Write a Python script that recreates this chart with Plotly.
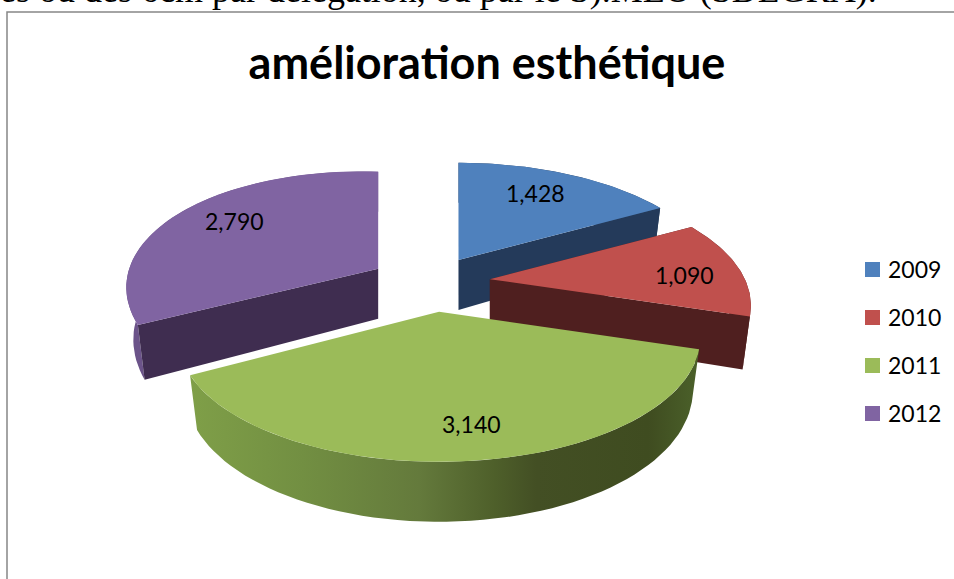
import math
import plotly.graph_objects as go

years = ["2009", "2010", "2011", "2012"]
values = [1428, 1090, 3140, 2790]
title_text = "amélioration esthétique"
page_text = "es ou des 6cm par délégation, ou par le S).MEO (SDLGRA)."

top_colors = ["#4f81bd", "#c0504d", "#9bbb59", "#8064a2"]
cut_colors = ["#243a5a", "#4f1f1f", "#4a5a2a", "#3f2d50"]
rim_colors = ["#2c4566", "#5a2422", None, "#6b5389"]
label_xy = [(535, 193), (684, 275), (471, 424), (234, 221)]
legend_y = [269.5, 317.5, 365.5, 413.5]

CX, CY = 433, 284       # pie centre
A, C = 255, 118         # radii before perspective
K = 0.214               # perspective strength
PULL = 0.236            # explosion
x_scale = [1, 1, 1, 0.965]
tilt = [0, 0, 0, 0.03]
nudge_x = [-5, -3, 0, -3]
nudge_y = [0, -2, 0, -1]
draw_order = [0, 3, 1, 2]


def project(theta, ox, oy, i):
    X, Y = math.sin(theta), -math.cos(theta)
    w = 1 - K * Y
    dx = A * X / w
    return ox + dx * x_scale[i], oy + C * Y / w + tilt[i] * dx, Y


def bottom(px, py, Y, ox):
    return ox + (px - ox) * 0.972, py + 50 + 10 * Y


total = sum(values)
fracs, acc = [], 0
for v in values:
    fracs.append((acc, acc + v))
    acc += v

fig = go.Figure()


def poly(xs, ys, color, **kw):
    fig.add_trace(go.Scatter(x=xs, y=ys, mode="lines", fill="toself", fillcolor=color,
                             line=dict(width=0), hoverinfo="skip", showlegend=False, **kw))


for i in draw_order:
    t0 = fracs[i][0] / total * 2 * math.pi
    t1 = fracs[i][1] / total * 2 * math.pi
    mid = (t0 + t1) / 2
    ox = CX + PULL * A * math.sin(mid) + nudge_x[i]
    oy = CY - PULL * C * math.cos(mid) + nudge_y[i]
    n = 60
    arc = [project(t0 + (t1 - t0) * j / n, ox, oy, i) for j in range(n + 1)]
    low = [bottom(x, y, Y, ox) for x, y, Y in arc]
    ax_b, ay_b = ox, oy + 50
    rx = [p[0] for p in arc] + [p[0] for p in reversed(low)]
    ry = [p[1] for p in arc] + [p[1] for p in reversed(low)]
    if rim_colors[i] is None:
        # front slice: only the outer rim shows below the top face
        fig.add_trace(go.Scatter(
            x=rx, y=ry, mode="lines", fill="toself", line=dict(width=0),
            hoverinfo="skip", showlegend=False,
            fillgradient=dict(type="horizontal", colorscale=[
                [0.00, "#7f9f48"], [0.22, "#728f42"], [0.45, "#647a3c"],
                [0.60, "#4e5f2a"], [0.68, "#434f24"], [0.90, "#3f4c20"], [1.00, "#4b612a"]])))
    else:
        poly(rx, ry, rim_colors[i])
        poly([ox, arc[0][0], low[0][0], ax_b], [oy, arc[0][1], low[0][1], ay_b], cut_colors[i])
        poly([ox, arc[-1][0], low[-1][0], ax_b], [oy, arc[-1][1], low[-1][1], ay_b], cut_colors[i])
    poly([ox] + [p[0] for p in arc] + [ox], [oy] + [p[1] for p in arc] + [oy], top_colors[i])

# legend entries
for name, col, ly in zip(years, top_colors, legend_y):
    fig.add_trace(go.Scatter(x=[872.5], y=[ly], mode="markers", name=name, showlegend=False,
                             hoverinfo="name",
                             marker=dict(symbol="square", size=15, color=col, line=dict(width=0))))

annotations = [
    dict(x=xy[0], y=xy[1], text=f"{v:,}", showarrow=False, xref="x", yref="y",
         font=dict(family="Lato", size=23, color="#000000"))
    for v, xy in zip(values, label_xy)
]
annotations += [
    dict(x=887, y=ly - 1, xanchor="left", text=name, showarrow=False, xref="x", yref="y", borderpad=0,
         font=dict(family="Lato", size=23, color="#000000"))
    for name, ly in zip(years, legend_y)
]
annotations.append(dict(x=877, y=10, xanchor="right", yanchor="bottom", text=page_text, showarrow=False,
                        xref="x", yref="y", borderpad=0, borderwidth=0,
                        font=dict(family="Liberation Serif", size=36, color="#000000")))

fig.update_layout(
    width=954, height=579, autosize=False,
    margin=dict(l=0, r=0, t=0, b=0),
    paper_bgcolor="#ffffff", plot_bgcolor="#ffffff",
    showlegend=False,
    xaxis=dict(range=[0, 954], visible=False, fixedrange=True),
    yaxis=dict(range=[579, 0], visible=False, fixedrange=True),
    title=dict(text=f"<b>{title_text}</b>", x=487 / 954, xanchor="center", y=1 - 63 / 579, yanchor="middle",
               font=dict(family="Lato", size=45, color="#000000")),
    shapes=[dict(type="rect", xref="x", yref="y", x0=7, y0=12, x1=970, y1=600,
                 line=dict(color="#868686", width=1.5), layer="below")],
    annotations=annotations,
)
fig.write_html("out.html", config={"displayModeBar": False},
               post_script="document.body.style.margin='0';document.documentElement.style.overflow='hidden';")
